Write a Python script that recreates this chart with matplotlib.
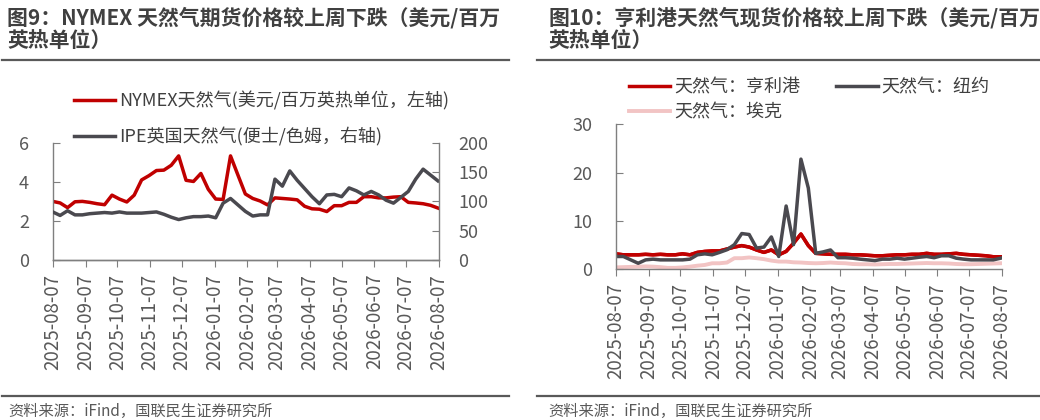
import matplotlib
matplotlib.use('Agg')
import matplotlib.pyplot as plt
import matplotlib.dates as mdates
from matplotlib.lines import Line2D
import pandas as pd

plt.rcParams['font.family'] = ['Noto Sans CJK SC', 'DejaVu Sans']
plt.rcParams['axes.unicode_minus'] = False

RED = '#C00000'
DARK = '#4A494F'
PINK = '#F2C4C4'
TXT = '#404040'
AX = '#7F7F7F'

dates = pd.date_range('2025-08-07', periods=53, freq='7D')
tick_dates = pd.date_range('2025-08-01', periods=13, freq='MS') + pd.Timedelta(days=6)

# fig 9: NYMEX futures (USD/MMBtu, left) and IPE UK gas (pence/therm, right)
nymex = [3.00, 2.92, 2.68, 2.98, 3.00, 2.95, 2.88, 2.83, 3.32, 3.12,
         2.97, 3.32, 4.10, 4.32, 4.58, 4.60, 4.85, 5.33, 4.08, 4.02,
         4.43, 3.62, 3.12, 3.10, 5.33, 4.35, 3.38, 3.15, 3.02, 2.82,
         3.18, 3.15, 3.12, 3.08, 2.75, 2.62, 2.60, 2.48, 2.78, 2.78,
         2.95, 2.95, 3.24, 3.24, 3.18, 3.18, 3.22, 3.24, 2.95, 2.92,
         2.88, 2.80, 2.66]
ipe = [82, 76, 84, 77, 77, 79, 80, 81, 80, 82,
       80, 80, 80, 81, 82, 78, 73, 69, 72, 74,
       74, 75, 72, 97, 105, 94, 83, 75, 77, 77,
       138, 126, 152, 136, 122, 108, 96, 111, 112, 108,
       123, 118, 111, 117, 111, 102, 97, 107, 117, 138,
       155, 145, 135]

# fig 10: spot prices
henry_hub = [3.2, 3.0, 3.0, 3.0, 3.1, 3.0, 3.1, 3.0, 3.0, 3.2,
             3.0, 3.5, 3.7, 3.8, 3.8, 4.2, 4.6, 4.9, 4.6, 4.0,
             3.5, 4.0, 3.0, 3.7, 5.4, 7.3, 4.9, 3.3, 3.2, 3.1,
             3.1, 3.1, 3.0, 3.0, 2.9, 2.8, 2.8, 2.9, 3.0, 3.0,
             3.1, 3.1, 3.3, 3.1, 3.1, 3.2, 3.3, 3.1, 3.0, 2.9,
             2.8, 2.6, 2.6]
new_york = [2.65, 2.65, 1.95, 1.25, 1.95, 2.1, 1.95, 1.95, 1.95, 1.95,
            2.1, 3.0, 3.2, 3.0, 3.5, 4.05, 5.1, 7.4, 7.2, 4.4,
            4.6, 6.7, 2.65, 13.1, 5.1, 22.8, 16.8, 3.3, 3.6, 4.0,
            2.4, 2.4, 2.3, 2.1, 1.95, 1.8, 2.1, 2.1, 2.3, 2.1,
            2.3, 2.5, 2.65, 2.4, 2.8, 2.8, 2.3, 2.1, 1.95, 1.95,
            1.95, 1.95, 2.3]
aeco = [0.4, 0.45, 0.5, 0.55, 0.6, 0.55, 0.45, 0.3, 0.3, 0.4,
        0.55, 0.75, 0.9, 1.25, 1.25, 1.4, 2.3, 2.3, 2.45, 2.3,
        2.1, 1.8, 1.6, 1.6, 1.45, 1.4, 1.3, 1.25, 1.3, 1.4,
        1.3, 1.25, 1.1, 1.05, 1.05, 1.0, 1.05, 1.1, 1.1, 1.15,
        1.2, 1.25, 1.3, 1.25, 1.25, 1.2, 1.1, 1.05, 1.05, 1.1,
        1.15, 1.2, 1.25]


def style_axis(ax, pad_y):
    for side in ['left', 'bottom', 'right']:
        ax.spines[side].set_color(AX)
        ax.spines[side].set_linewidth(1.0)
    ax.spines['top'].set_visible(False)
    ax.tick_params(axis='y', direction='in', length=5, pad=pad_y,
                   labelsize=13, labelcolor='#595959', color=AX)
    ax.tick_params(axis='x', direction='out', length=5, pad=5,
                   labelsize=13.5, labelcolor='#595959', color=AX)
    ax.set_xticks(tick_dates)
    ax.xaxis.set_major_formatter(mdates.DateFormatter('%Y-%m-%d'))
    for lbl in ax.get_xticklabels():
        lbl.set_rotation(90)
    ax.set_xlim(tick_dates[0], tick_dates[-1])


fig = plt.figure(figsize=(10.4, 4.2), dpi=100)

# ---- left panel
ax1 = fig.add_axes([0.0507, 0.381, 0.3714, 0.279])
ax2 = ax1.twinx()
l1, = ax1.plot(dates, nymex, color=RED, lw=2.5,
               label='NYMEX天然气(美元/百万英热单位，左轴)')
l2, = ax2.plot(dates, ipe, color=DARK, lw=2.5,
               label='IPE英国天然气(便士/色姆，右轴)')
ax1.set_ylim(0, 6)
ax1.set_yticks([0, 2, 4, 6])
ax2.set_ylim(0, 200)
ax2.set_yticks([0, 50, 100, 150, 200])
style_axis(ax1, 17)
style_axis(ax2, 14)
ax2.spines['left'].set_visible(False)
ax1.spines['right'].set_visible(False)
ax1.legend(handles=[l1, l2], loc='upper left', bbox_to_anchor=(0.062, 0.805),
           bbox_transform=fig.transFigure, frameon=False, fontsize=13,
           handlelength=2.3, handletextpad=0.2, labelspacing=0.95,
           borderpad=0, labelcolor=TXT)

# ---- right panel
ax3 = fig.add_axes([0.5923, 0.3588, 0.3709, 0.3452])
h1, = ax3.plot(dates, henry_hub, color=RED, lw=2.5, label='天然气：亨利港')
h2, = ax3.plot(dates, new_york, color=DARK, lw=2.5, label='天然气：纽约')
h3, = ax3.plot(dates, aeco, color=PINK, lw=2.8, label='天然气：埃克')
ax3.plot(dates, henry_hub, color=RED, lw=2.5, zorder=1.5)
h3.set_zorder(1)
ax3.set_ylim(0, 30)
ax3.set_yticks([0, 10, 20, 30])
style_axis(ax3, 17)
ax3.spines['right'].set_visible(False)
# column-major fill: first column gets Henry Hub and AECO, second New York
ax3.legend(handles=[h1, h3, h2], loc='upper left', ncol=2,
           bbox_to_anchor=(0.596, 0.835), bbox_transform=fig.transFigure,
           frameon=False, fontsize=13, handlelength=2.3, handletextpad=0.2,
           labelspacing=0.4, columnspacing=2.0, borderpad=0, labelcolor=TXT)

# ---- titles, rules and sources
fig.text(0.007, 1 - 18 / 420, '图9：NYMEX 天然气期货价格较上周下跌（美元/百万',
         fontsize=15, fontweight='bold', color=TXT, va='center')
fig.text(0.007, 1 - 40 / 420, '英热单位）',
         fontsize=15, fontweight='bold', color=TXT, va='center')
fig.text(548 / 1040, 1 - 18 / 420, '图10：亨利港天然气现货价格较上周下跌（美元/百万',
         fontsize=15, fontweight='bold', color=TXT, va='center')
fig.text(548 / 1040, 1 - 40 / 420, '英热单位）',
         fontsize=15, fontweight='bold', color=TXT, va='center')

for x0, x1 in [(2, 509), (537, 1040)]:
    for yy in [60, 396]:
        fig.add_artist(Line2D([x0 / 1040, x1 / 1040], [1 - yy / 420, 1 - yy / 420],
                              color='#595959', lw=1.6, transform=fig.transFigure))

fig.text(8 / 1040, 1 - 411 / 420, '资料来源：iFind，国联民生证券研究所',
         fontsize=11, color='#595959', va='center')
fig.text(548 / 1040, 1 - 411 / 420, '资料来源：iFind，国联民生证券研究所',
         fontsize=11, color='#595959', va='center')

fig.savefig('out.png', dpi=100)
